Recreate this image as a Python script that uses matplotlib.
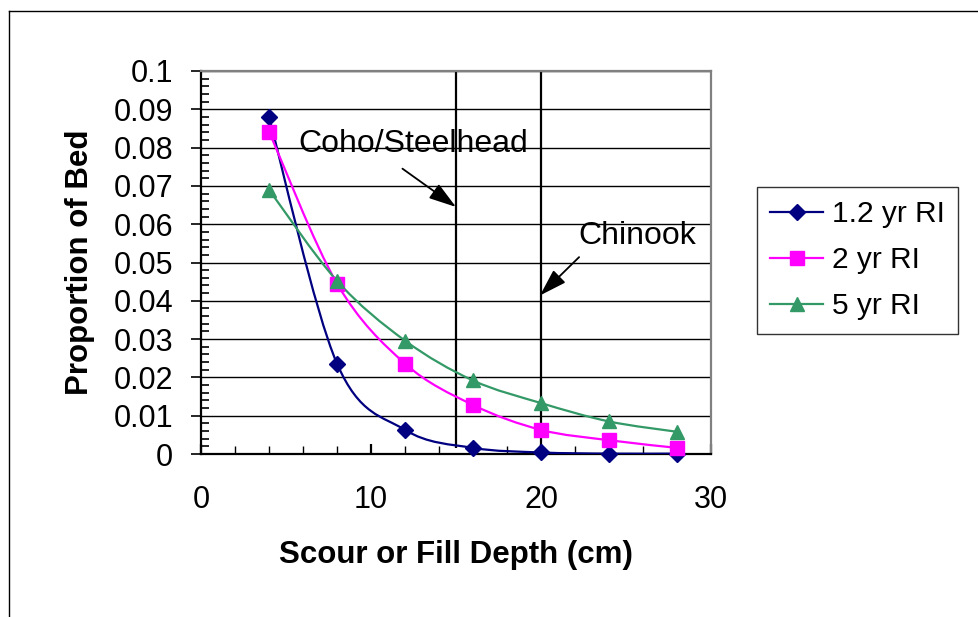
import matplotlib
matplotlib.use("Agg")
import matplotlib.pyplot as plt
from matplotlib.path import Path
from matplotlib.patches import PathPatch
from matplotlib.lines import Line2D
from matplotlib.ticker import MultipleLocator, FuncFormatter

plt.rcParams['font.family'] = ['Liberation Sans', 'DejaVu Sans']

# data
depth = [4, 8, 12, 16, 20, 24, 28]
ri_1_2 = [0.088, 0.0236, 0.0063, 0.0016, 0.0004, 0.0001, 0.0001]
ri_2 = [0.0842, 0.0445, 0.0236, 0.0128, 0.0063, 0.0036, 0.0016]
ri_5 = [0.069, 0.0452, 0.0296, 0.0192, 0.0133, 0.0085, 0.0058]

series = [
    ("1.2 yr RI", ri_1_2, "#000080", "D", 8.5),
    ("2 yr RI", ri_2, "#FF00FF", "s", 10),
    ("5 yr RI", ri_5, "#339966", "^", 10),
]

species = ["Coho/Steelhead", "Chinook"]
species_depth = [15, 20]
species_line_bottom = [0.0015, 0.0]


def smooth_path(xs, ys):
    # Excel-like smoothed line: cubic bezier through the points
    pts = list(zip(xs, ys))
    verts = [pts[0]]
    codes = [Path.MOVETO]
    n = len(pts)
    for i in range(n - 1):
        p0 = pts[i - 1] if i > 0 else pts[i]
        p1 = pts[i]
        p2 = pts[i + 1]
        p3 = pts[i + 2] if i + 2 < n else pts[i + 1]
        c1 = (p1[0] + (p2[0] - p0[0]) / 6, p1[1] + (p2[1] - p0[1]) / 6)
        c2 = (p2[0] - (p3[0] - p1[0]) / 6, p2[1] - (p3[1] - p1[1]) / 6)
        verts += [c1, c2, p2]
        codes += [Path.CURVE4] * 3
    return Path(verts, codes)


fig = plt.figure(figsize=(9.79, 6.17), dpi=100)
ax = fig.add_axes([201 / 979, 1 - 454 / 617, 510 / 979, 383 / 617])

# outer chart border (only top and left visible)
fig.add_artist(Line2D([9 / 979, 1], [1 - 11 / 617, 1 - 11 / 617], color="black", lw=1))
fig.add_artist(Line2D([9 / 979, 9 / 979], [1 - 11 / 617, 0], color="black", lw=1))

ax.set_xlim(0, 30)
ax.set_ylim(0, 0.1)

ax.yaxis.grid(True, which="major", color="black", lw=1)
ax.set_axisbelow(True)

handles = []
for label, vals, color, marker, ms in series:
    ax.add_patch(PathPatch(smooth_path(depth, vals), fill=False, edgecolor=color, lw=1.6, zorder=3))
    ax.plot(depth, vals, linestyle="none", marker=marker, ms=ms, color=color, zorder=4, clip_on=False)
    handles.append(Line2D([], [], color=color, lw=1.6, marker=marker, ms=ms, label=label))

ax.vlines(species_depth, species_line_bottom, 0.1, color="black", lw=1.6, zorder=2)

# annotations
arrow = dict(arrowstyle="-|>,head_length=0.7,head_width=0.22", mutation_scale=24,
             color="black", lw=1.3, shrinkA=0, shrinkB=0)
ax.text(5.7, 0.0788, species[0], fontsize=23, va="baseline", ha="left")
ax.annotate("", xy=(15.0, 0.0645), xytext=(11.85, 0.0745), arrowprops=arrow)
ax.text(22.18, 0.0549, species[1], fontsize=23, va="baseline", ha="left")
ax.annotate("", xy=(19.94, 0.0414), xytext=(22.24, 0.0514), arrowprops=arrow)

# axes styling
for side in ["left", "bottom"]:
    ax.spines[side].set_color("black")
    ax.spines[side].set_linewidth(1.6)
for side in ["top", "right"]:
    ax.spines[side].set_color("#808080")
    ax.spines[side].set_linewidth(1.6)

ax.xaxis.set_major_locator(MultipleLocator(10))
ax.xaxis.set_minor_locator(MultipleLocator(2))
ax.yaxis.set_major_locator(MultipleLocator(0.01))
ax.yaxis.set_minor_locator(MultipleLocator(0.002))
ax.yaxis.set_major_formatter(FuncFormatter(lambda v, p: "%g" % round(v, 3)))

ax.tick_params(axis="x", which="major", direction="in", length=7, width=1.6, labelsize=22, pad=22)
ax.tick_params(axis="x", which="minor", direction="in", length=6, width=1)
ax.tick_params(axis="y", which="major", direction="out", length=7, width=1.2, labelsize=22, pad=13)
ax.tick_params(axis="y", which="minor", direction="in", length=6, width=1.2)

ax.set_xlabel("Scour or Fill Depth (cm)", fontsize=22.5, fontweight="bold")
ax.xaxis.set_label_coords(0.5, (454 - 555) / 383)
ax.xaxis.label.set_va("center")
ax.set_ylabel("Proportion of Bed", fontsize=22.5, fontweight="bold")
ax.yaxis.set_label_coords((80 - 201) / 510, 0.5)
ax.yaxis.label.set_va("center")

leg = fig.legend(handles=handles, loc="upper left", bbox_to_anchor=(757 / 979, 1 - 187 / 617),
                 fontsize=21.5, frameon=True, fancybox=False, edgecolor="black",
                 handlelength=1.75, handletextpad=0.3, borderpad=0.45, labelspacing=0.6,
                 borderaxespad=0)
leg.get_frame().set_linewidth(1)

fig.savefig("out.png", dpi=100)
